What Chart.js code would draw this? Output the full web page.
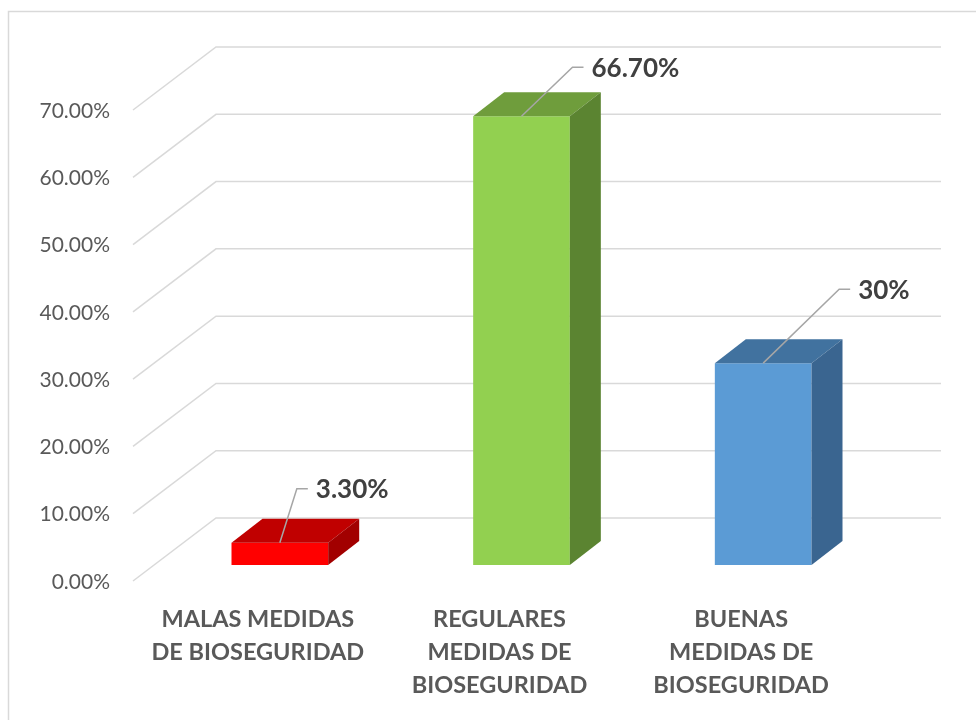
<!DOCTYPE html>
<html>
<head>
<meta charset="utf-8">
<script src="https://cdn.jsdelivr.net/npm/chart.js@4.4.1/dist/chart.umd.min.js"></script>
<style>
  html, body { margin: 0; padding: 0; background: #fff; }
  #wrap { width: 976px; height: 720px; }
</style>
</head>
<body>
<div id="wrap"><canvas id="chart" width="976" height="720"></canvas></div>
<script>
// data
const categories = [
  ["MALAS MEDIDAS", "DE BIOSEGURIDAD"],
  ["REGULARES", "MEDIDAS DE", "BIOSEGURIDAD"],
  ["BUENAS", "MEDIDAS DE", "BIOSEGURIDAD"]
];
const values = [3.3, 66.7, 30];
const valueLabels = ["3.30%", "66.70%", "30%"];
const yTicks = [0, 10, 20, 30, 40, 50, 60, 70];

// colours: front, top, side
const frontColors = ["#ff0000", "#92d050", "#5b9bd5"];
const topColors = ["#c00000", "#6f9d3c", "#41729f"];
const sideColors = ["#a20000", "#5b8431", "#3a6590"];

// where each value label was dragged to (elbow of the leader line, relative to bar top)
const labelElbows = [[17, -54], [51, -49], [76, -74]];

// 3D depth: floor (front -> back wall) and bar thickness
const FLOOR_DX = 83, FLOOR_DY = -63;
const BAR_DX = 31, BAR_DY = -24;
// bars sit this far behind the front edge of the floor
const PLANE_DX = 22, PLANE_DY = 16;

const frame = {
  id: "frame",
  beforeDraw(chart) {
    const ctx = chart.ctx;
    ctx.save();
    ctx.fillStyle = "#fff";
    ctx.fillRect(0, 0, chart.width, chart.height);
    ctx.strokeStyle = "#d9d9d9";
    ctx.lineWidth = 1.5;
    ctx.strokeRect(8.5, 11.5, 1200, 1000);
    ctx.restore();
  }
};

const grid3d = {
  id: "grid3d",
  beforeDatasetsDraw(chart) {
    const ctx = chart.ctx;
    const y = chart.scales.y;
    const left = chart.chartArea.left - PLANE_DX - 4;
    const right = 941;
    ctx.save();
    ctx.strokeStyle = "#d9d9d9";
    ctx.lineWidth = 1.5;
    yTicks.forEach(v => {
      const fy = y.getPixelForValue(v) + PLANE_DY;
      ctx.beginPath();
      ctx.moveTo(left, fy);
      ctx.lineTo(left + FLOOR_DX, fy + FLOOR_DY);
      ctx.lineTo(right, fy + FLOOR_DY);
      ctx.stroke();
    });
    ctx.restore();
  }
};

const bars3d = {
  id: "bars3d",
  afterDatasetsDraw(chart) {
    const ctx = chart.ctx;
    const meta = chart.getDatasetMeta(0);
    ctx.save();
    meta.data.forEach((bar, i) => {
      const l = bar.x - bar.width / 2, r = bar.x + bar.width / 2;
      const t = bar.y, b = bar.base;
      ctx.fillStyle = topColors[i];
      ctx.beginPath();
      ctx.moveTo(l, t);
      ctx.lineTo(l + BAR_DX, t + BAR_DY);
      ctx.lineTo(r + BAR_DX, t + BAR_DY);
      ctx.lineTo(r, t);
      ctx.closePath();
      ctx.fill();
      ctx.fillStyle = sideColors[i];
      ctx.beginPath();
      ctx.moveTo(r, t);
      ctx.lineTo(r + BAR_DX, t + BAR_DY);
      ctx.lineTo(r + BAR_DX, b + BAR_DY);
      ctx.lineTo(r, b);
      ctx.closePath();
      ctx.fill();
    });

    // value labels with leader lines
    ctx.font = "bold 26px Lato";
    ctx.textBaseline = "middle";
    ctx.textAlign = "left";
    meta.data.forEach((bar, i) => {
      const [ex, ey] = labelElbows[i];
      const sx = bar.x, sy = bar.y;
      const kx = sx + ex, ky = sy + ey;
      ctx.strokeStyle = "#a6a6a6";
      ctx.lineWidth = 1.5;
      ctx.beginPath();
      ctx.moveTo(sx, sy);
      ctx.lineTo(kx, ky);
      ctx.lineTo(kx + 11, ky);
      ctx.stroke();
      ctx.fillStyle = "#404040";
      ctx.fillText(valueLabels[i], kx + 19, ky + 1);
    });
    ctx.restore();
  }
};

new Chart(document.getElementById("chart"), {
  type: "bar",
  data: {
    labels: categories,
    datasets: [{
      data: values,
      backgroundColor: frontColors,
      borderWidth: 0,
      barPercentage: 0.8,
      categoryPercentage: 0.5
    }]
  },
  options: {
    responsive: false,
    animation: false,
    layout: { padding: { left: 0, top: 94, right: 92, bottom: 0 } },
    plugins: { legend: { display: false }, tooltip: { enabled: false } },
    scales: {
      x: {
        grid: { display: false, drawTicks: false },
        border: { display: false },
        afterFit(scale) { scale.height = 155; },
        ticks: {
          padding: 38,
          labelOffset: -PLANE_DX,
          maxRotation: 0,
          autoSkip: false,
          color: "#595959",
          font: { family: "Lato", size: 23.5, weight: "bold", lineHeight: 1.4 }
        }
      },
      y: {
        min: 0,
        max: 70,
        afterFit(scale) { scale.width = 159; },
        afterBuildTicks(scale) { scale.ticks = yTicks.map(v => ({ value: v })); },
        grid: { display: false, drawTicks: false },
        border: { display: false },
        ticks: {
          padding: 49,
          labelOffset: PLANE_DY + 1,
          color: "#595959",
          font: { family: "Lato", size: 21 },
          callback: v => v.toFixed(2) + "%"
        }
      }
    }
  },
  plugins: [frame, grid3d, bars3d]
});
</script>
</body>
</html>
